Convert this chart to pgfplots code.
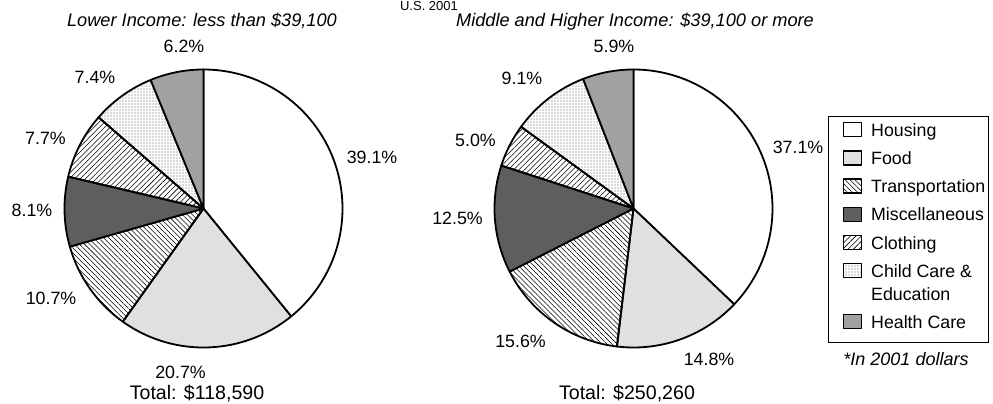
\documentclass[border=0pt]{standalone}
\usepackage{pgfplots}
\pgfplotsset{compat=1.18}
\usepackage{fontspec}
\setmainfont{Liberation Sans}
\usetikzlibrary{patterns.meta}

\definecolor{foodgray}{gray}{0.88}
\definecolor{miscgray}{gray}{0.37}
\definecolor{healthgray}{gray}{0.63}

\tikzset{
  housing/.style={fill=white},
  food/.style={fill=foodgray},
  transp/.style={pattern={Lines[angle=-45,distance=3.6pt,line width=0.55pt]}, pattern color=black},
  misc/.style={fill=miscgray},
  cloth/.style={pattern={Lines[angle=45,distance=3.8pt,line width=0.55pt]}, pattern color=black},
  child/.style={pattern={Dots[distance=3pt,radius=0.62pt]}, pattern color=black!65},
  health/.style={fill=healthgray},
}

\newcommand{\lab}{\fontsize{17.8pt}{21pt}\selectfont}
% degrees per percentage point (the shares of a pie are scaled to fill the circle)
\newcommand{\pfac}{3.6}
% \slice{cumulative share before}{share}{style}
\newcommand{\slice}[3]{%
  \addplot[#3, draw=black, line width=1.8pt, line join=round,
    domain={90-\pfac*(#1+#2)}:{90-\pfac*(#1)}, samples=100, variable=\t]
    ({cos(\t)},{sin(\t)}) -- (axis cs:0,0) -- cycle;
}

\begin{document}
\begin{tikzpicture}
\useasboundingbox (0pt,0pt) rectangle (993pt,-404pt);

% ---- Lower income pie (shares sum to 99.9) ----
\renewcommand{\pfac}{3.603604}
\begin{axis}[at={(203.5pt,-208.5pt)}, anchor=center,
  x=139pt, y=139pt, xmin=-1, xmax=1, ymin=-1, ymax=1,
  hide axis, clip=false]
\slice{0}{39.1}{housing}
\slice{39.1}{20.7}{food}
\slice{59.8}{10.7}{transp}
\slice{70.5}{8.1}{misc}
\slice{78.6}{7.7}{cloth}
\slice{86.3}{7.4}{child}
\slice{93.7}{6.2}{health}
\end{axis}

% ---- Middle and higher income pie (shares sum to 100.0) ----
\renewcommand{\pfac}{3.6}
\begin{axis}[at={(633.5pt,-208.5pt)}, anchor=center,
  x=139pt, y=139pt, xmin=-1, xmax=1, ymin=-1, ymax=1,
  hide axis, clip=false,
  legend image code/.code={%
    \path (-11pt,0pt);
    \draw[#1, line width=1.3pt] (0pt,-0.3pt) rectangle (18pt,13.7pt);},
  legend style={at={(axis description cs:1.1996,0.8345)}, anchor=north west,
    draw=black, line width=1.2pt, inner xsep=3pt, inner ysep=6pt,
    row sep=9.8pt, column sep=9pt,
    font=\fontsize{17.8pt}{23pt}\selectfont,
    cells={anchor=base west},
    nodes={inner sep=0pt, outer sep=0pt, text height=13pt, text depth=4pt}}]
\slice{0}{37.1}{housing}
\addlegendentry{Housing}
\slice{37.1}{14.8}{food}
\addlegendentry{Food}
\slice{51.9}{15.6}{transp}
\addlegendentry{Transportation}
\slice{67.5}{12.5}{misc}
\addlegendentry{Miscellaneous}
\slice{80.0}{5.0}{cloth}
\addlegendentry{Clothing}
\slice{85.0}{9.1}{child}
\addlegendentry[text depth=27pt]{\vtop{\hbox{Child Care \&}\hbox{Education}}}
\slice{94.1}{5.9}{health}
\addlegendentry[text depth=8.5pt]{Health Care}
\end{axis}

% ---- titles ----
\node[anchor=base, font=\fontsize{13pt}{15pt}\selectfont] at (429pt,-11pt) {U.S. 2001};
\node[anchor=base, font=\fontsize{18.2pt}{21pt}\selectfont\itshape] at (202pt,-26.5pt) {Lower Income: less than \$39,100};
\node[anchor=base, font=\fontsize{18.2pt}{21pt}\selectfont\itshape] at (635pt,-26.5pt) {Middle and Higher Income: \$39,100 or more};

% ---- slice labels, left ----
\node[anchor=base, font=\lab] at (184pt,-52.4pt) {6.2\%};
\node[anchor=base, font=\lab] at (95pt,-83.4pt) {7.4\%};
\node[anchor=base, font=\lab] at (45.5pt,-144.4pt) {7.7\%};
\node[anchor=base, font=\lab] at (32pt,-216.9pt) {8.1\%};
\node[anchor=base, font=\lab] at (51pt,-304.4pt) {10.7\%};
\node[anchor=base, font=\lab] at (180.5pt,-378pt) {20.7\%};
\node[anchor=base, font=\lab] at (372pt,-163pt) {39.1\%};

% ---- slice labels, right ----
\node[anchor=base, font=\lab] at (614pt,-52.4pt) {5.9\%};
\node[anchor=base, font=\lab] at (522pt,-84.4pt) {9.1\%};
\node[anchor=base, font=\lab] at (475.5pt,-146.4pt) {5.0\%};
\node[anchor=base, font=\lab] at (457.5pt,-224.7pt) {12.5\%};
\node[anchor=base, font=\lab] at (520.5pt,-347.4pt) {15.6\%};
\node[anchor=base, font=\lab] at (709pt,-365.4pt) {14.8\%};
\node[anchor=base, font=\lab] at (798pt,-153.5pt) {37.1\%};

% ---- totals and note ----
\node[anchor=base, font=\fontsize{19.6pt}{23pt}\selectfont] at (197pt,-399pt) {Total: \$118,590};
\node[anchor=base, font=\fontsize{19.6pt}{23pt}\selectfont] at (627pt,-399pt) {Total: \$250,260};
\node[anchor=base, font=\fontsize{18pt}{21pt}\selectfont\itshape] at (906pt,-365pt) {*In 2001 dollars};
\end{tikzpicture}
\end{document}
